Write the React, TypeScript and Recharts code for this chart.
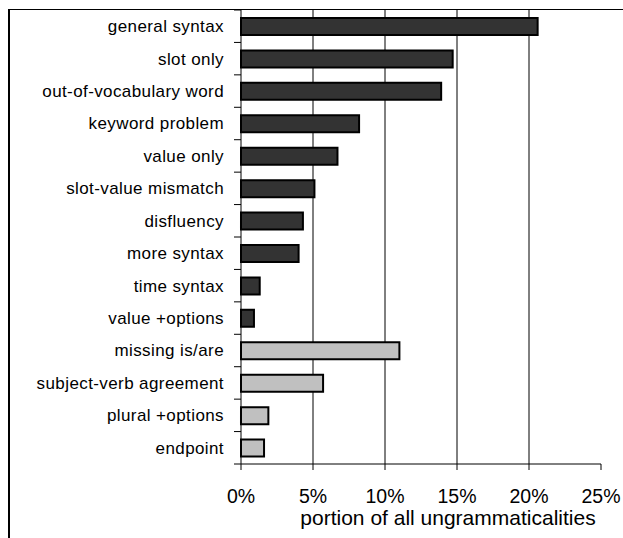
import React from "react";
import { Bar, BarChart, CartesianGrid, Cell, XAxis, YAxis } from "recharts";

const CATEGORIES = [
  "general syntax",
  "slot only",
  "out-of-vocabulary word",
  "keyword problem",
  "value only",
  "slot-value mismatch",
  "disfluency",
  "more syntax",
  "time syntax",
  "value +options",
  "missing is/are",
  "subject-verb agreement",
  "plural +options",
  "endpoint",
];
const VALUES = [20.6, 14.7, 13.9, 8.2, 6.7, 5.1, 4.3, 4.0, 1.3, 0.9, 11.0, 5.7, 1.9, 1.6];
// first 10 rows are the dark group, last 4 the light group
const GROUPS = ["a", "a", "a", "a", "a", "a", "a", "a", "a", "a", "b", "b", "b", "b"];
const X_TICKS = [0, 5, 10, 15, 20, 25];
const GRID_LINES = [5, 10, 15, 20];

const GROUP_COLORS: Record<string, string> = { a: "#333333", b: "#c0c0c0" };

const data = CATEGORIES.map((name, i) => ({ name, value: VALUES[i], group: GROUPS[i] }));

const W = 613;
const H = 528;
const MARGIN = { top: 0, right: 22, bottom: 0, left: 0 };
const Y_AXIS_W = 231;
const X_AXIS_H = 74;
const PLOT_H = H - MARGIN.top - MARGIN.bottom - X_AXIS_H;
const BAND = PLOT_H / CATEGORIES.length;
const TICK_LEN = 7;
const TICK_MARGIN = 10;
const FONT = "'Liberation Sans', Arial, sans-serif";

function CategoryTick(props: any) {
  const { x, y, payload } = props;
  const half = payload.offset || BAND / 2;
  const ax = x + TICK_LEN + TICK_MARGIN;
  const last = payload.index === CATEGORIES.length - 1;
  return (
    <g>
      <line x1={ax - TICK_LEN} x2={ax} y1={y - half} y2={y - half} stroke="#000" />
      {last && <line x1={ax - TICK_LEN} x2={ax} y1={y + half} y2={y + half} stroke="#000" />}
      <text
        x={x}
        y={y}
        dy="0.35em"
        textAnchor="end"
        fontSize={17}
        letterSpacing={0.4}
        fontFamily={FONT}
        fill="#000"
      >
        {payload.value}
      </text>
    </g>
  );
}

export default function App() {
  return (
    <div
      style={{
        position: "absolute",
        left: 8,
        top: 9,
        width: 615,
        height: 529,
        boxSizing: "border-box",
        borderTop: "1px solid #000",
        borderLeft: "2px solid #000",
        background: "#fff",
      }}
    >
      <BarChart width={W} height={H} data={data} layout="vertical" margin={MARGIN} barSize={17}>
        <CartesianGrid
          horizontal={false}
          stroke="#000"
          verticalCoordinatesGenerator={({ offset }: any) =>
            GRID_LINES.map((v) => offset.left + (offset.width * v) / 25)
          }
        />
        <XAxis
          type="number"
          domain={[0, 25]}
          ticks={X_TICKS}
          tickFormatter={(v) => `${v}%`}
          height={X_AXIS_H}
          tickSize={6}
          tickMargin={19}
          stroke="#000"
          tick={{ fontSize: 19.5, fontFamily: FONT, fill: "#000" }}
          interval={0}
          label={{
            value: "portion of all ungrammaticalities",
            content: (p: any) => {
              const vb = p.viewBox;
              return (
                <text
                  x={vb.x + vb.width / 2 + 27}
                  y={vb.y + vb.height - 13}
                  textAnchor="middle"
                  fontSize={21}
                  fontFamily={FONT}
                  fill="#000"
                >
                  portion of all ungrammaticalities
                </text>
              );
            },
          }}
        />
        <YAxis
          type="category"
          dataKey="name"
          width={Y_AXIS_W}
          tickLine={false}
          tickSize={TICK_LEN}
          tickMargin={TICK_MARGIN}
          stroke="#000"
          interval={0}
          tick={<CategoryTick />}
        />
        <Bar dataKey="value" stroke="#000" strokeWidth={2} isAnimationActive={false}>
          {data.map((d, i) => (
            <Cell key={i} fill={GROUP_COLORS[d.group]} />
          ))}
        </Bar>
      </BarChart>
    </div>
  );
}
